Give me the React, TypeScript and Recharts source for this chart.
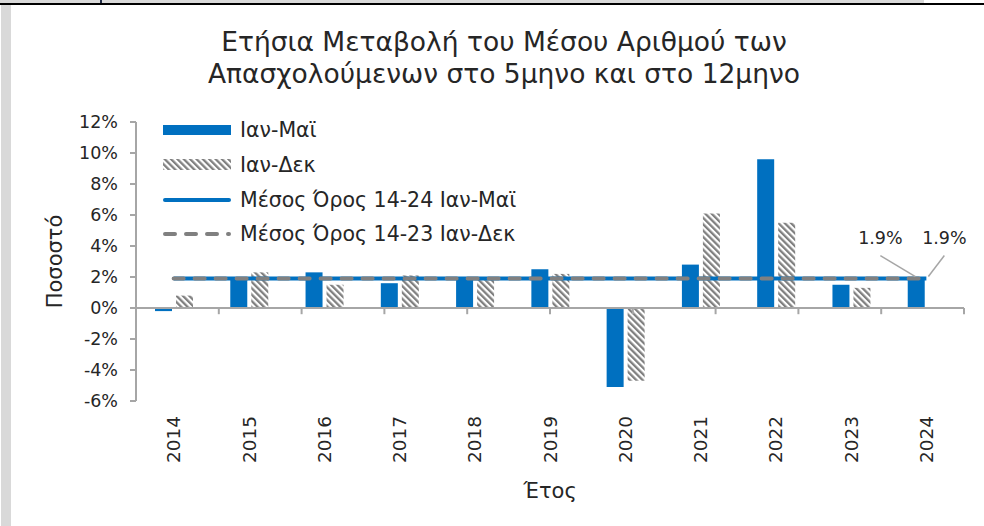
import {
  ComposedChart,
  Bar,
  Line,
  XAxis,
  YAxis,
  ReferenceLine,
  Legend,
} from "recharts";

const years = ["2014", "2015", "2016", "2017", "2018", "2019", "2020", "2021", "2022", "2023", "2024"];
const janMay = [-0.2, 2.0, 2.3, 1.6, 1.9, 2.5, -5.1, 2.8, 9.6, 1.5, 2.0];
const janDec = [0.8, 2.3, 1.5, 2.1, 1.8, 2.2, -4.7, 6.1, 5.5, 1.3, null];
const avgJanMay = [1.9, 1.9, 1.9, 1.9, 1.9, 1.9, 1.9, 1.9, 1.9, 1.9, 1.9];
const avgJanDec = [1.9, 1.9, 1.9, 1.9, 1.9, 1.9, 1.9, 1.9, 1.9, 1.9, 1.9];
const yTicks = [-6, -4, -2, 0, 2, 4, 6, 8, 10, 12];

const data = years.map((year, i) => ({
  year,
  janMay: janMay[i],
  janDec: janDec[i],
  avgJanMay: avgJanMay[i],
  avgJanDec: avgJanDec[i],
}));

// category boundaries for the tick marks under the zero line
const boundaries = years.map((_, i) => i + 1);

const BLUE = "#0070C0";
const GRAY = "#808080";
const AXIS = "#a6a6a6";
const TEXT = "#262626";
const FONT = "'DejaVu Sans', sans-serif";

const legendItems = [
  { key: "janMay", label: "Ιαν-Μαϊ", kind: "bar" },
  { key: "janDec", label: "Ιαν-Δεκ", kind: "hatch" },
  { key: "avgJanMay", label: "Μέσος Όρος 14-24 Ιαν-Μαϊ", kind: "line" },
  { key: "avgJanDec", label: "Μέσος Όρος 14-23 Ιαν-Δεκ", kind: "dash" },
];

const LegendBox = () => (
  <div style={{ fontFamily: FONT, fontSize: 20.5, color: TEXT }}>
    {legendItems.map((item) => (
      <div key={item.key} style={{ display: "flex", alignItems: "center", height: 34.7 }}>
        <svg width={72} height={14} style={{ marginRight: 6 }}>
          {item.kind === "bar" && <rect x={1} y={2} width={68} height={10} fill={BLUE} />}
          {item.kind === "hatch" && <rect x={1} y={1} width={68} height={11} fill="url(#hatch)" />}
          {item.kind === "line" && (
            <line x1={3} y1={7} x2={67} y2={7} stroke={BLUE} strokeWidth={4} strokeLinecap="round" />
          )}
          {item.kind === "dash" && (
            <line
              x1={3}
              y1={7}
              x2={67}
              y2={7}
              stroke={GRAY}
              strokeWidth={4}
              strokeLinecap="round"
              strokeDasharray="10 11"
            />
          )}
        </svg>
        <span>{item.label}</span>
      </div>
    ))}
  </div>
);

const YearTick = ({ x, y, payload }: any) => (
  <text
    x={x}
    y={y + 13}
    transform={`rotate(-90 ${x} ${y + 13})`}
    textAnchor="end"
    dy="0.36em"
    fill={TEXT}
    fontSize={18.5}
    fontFamily={FONT}
  >
    {payload.value}
  </text>
);

const lastLabel = (side: "left" | "right") => (props: any) => {
  const { x, y, index, value } = props;
  if (index !== years.length - 1 || x == null) return null;
  const dx = side === "left" ? -46 : 18;
  const endX = side === "left" ? x - 11 : x + 2;
  return (
    <g>
      <line x1={x + dx} y1={y - 23} x2={endX} y2={y - 2} stroke={AXIS} strokeWidth={1.5} />
      <text
        x={x + dx}
        y={y - 41}
        textAnchor="middle"
        dy="0.35em"
        fill={TEXT}
        fontSize={17.5}
        fontFamily={FONT}
      >
        {`${value}%`}
      </text>
    </g>
  );
};

const YLabel = (props: any) => {
  const vb = props.viewBox || {};
  const cx = (vb.x || 0) + 55;
  const cy = (vb.y || 0) + (vb.height || 0) / 2;
  return (
    <text
      x={cx}
      y={cy}
      transform={`rotate(-90 ${cx} ${cy})`}
      textAnchor="middle"
      dy="0.35em"
      fill={TEXT}
      fontSize={21}
      fontFamily={FONT}
    >
      Ποσοστό
    </text>
  );
};

export default function App() {
  return (
    <div
      style={{
        position: "absolute",
        left: 0,
        top: 0,
        width: 984,
        height: 526,
        background: "#ffffff",
        overflow: "hidden",
      }}
    >
      <div style={{ position: "absolute", left: 0, top: 0, width: 924, height: 3, background: "#d9d9d9" }} />
      <div style={{ position: "absolute", left: 100, top: 0, width: 2, height: 3, background: "#1f2a44" }} />
      <div style={{ position: "absolute", left: 0, top: 3, width: 984, height: 2, background: "#000000" }} />
      <div style={{ position: "absolute", left: 1, top: 5, width: 10, height: 521, background: "#d9d9d9" }} />

      <div
        style={{
          position: "absolute",
          left: 104,
          top: 26,
          width: 800,
          textAlign: "center",
          fontFamily: FONT,
          fontSize: 26.5,
          lineHeight: "32px",
          color: TEXT,
        }}
      >
        Ετήσια Μεταβολή του Μέσου Αριθμού των
        <br />
        Απασχολούμενων στο 5μηνο και στο 12μηνο
      </div>

      <div style={{ position: "absolute", left: 0, top: 0 }}>
        <ComposedChart
          width={984}
          height={526}
          data={data}
          margin={{ top: 122, right: 20, bottom: 0, left: 0 }}
          barGap={4}
        >
          <defs>
            <pattern
              id="hatch"
              patternUnits="userSpaceOnUse"
              width={4.5}
              height={4.5}
              patternTransform="rotate(-45)"
            >
              <rect width={4.5} height={4.5} fill="#ffffff" />
              <rect width={2.3} height={4.5} fill={GRAY} />
            </pattern>
          </defs>
          <XAxis
            xAxisId="cat"
            dataKey="year"
            height={125}
            axisLine={false}
            tickLine={false}
            tickSize={0}
            interval={0}
            tick={<YearTick />}
            label={{
              value: "Έτος",
              position: "insideBottom",
              offset: 28,
              fill: TEXT,
              fontSize: 21,
              fontFamily: FONT,
            }}
          />
          <XAxis xAxisId="num" type="number" domain={[0, 11]} allowDataOverflow hide />
          <YAxis
            width={136}
            domain={[-6, 12]}
            ticks={yTicks}
            interval={0}
            tickFormatter={(v) => `${v}%`}
            axisLine={{ stroke: AXIS, strokeWidth: 2 }}
            tickLine={{ stroke: AXIS, strokeWidth: 2 }}
            tickSize={6}
            tickMargin={12}
            tick={{ fill: TEXT, fontSize: 17.5, fontFamily: FONT }}
            label={<YLabel />}
          />
          <Legend
            layout="vertical"
            verticalAlign="middle"
            align="center"
            content={<LegendBox />}
            wrapperStyle={{ position: "absolute", left: 162, top: 113, width: 420 }}
          />
          <Bar
            xAxisId="cat"
            dataKey="janMay"
            name="Ιαν-Μαϊ"
            fill={BLUE}
            barSize={17}
            isAnimationActive={false}
          />
          <Bar
            xAxisId="cat"
            dataKey="janDec"
            name="Ιαν-Δεκ"
            fill="url(#hatch)"
            barSize={17}
            isAnimationActive={false}
          />
          <ReferenceLine xAxisId="cat" y={0} stroke={AXIS} strokeWidth={2} />
          {boundaries.map((b) => (
            <ReferenceLine
              key={b}
              xAxisId="num"
              segment={[
                { x: b, y: 0 },
                { x: b, y: -0.4 },
              ]}
              stroke={AXIS}
              strokeWidth={2}
            />
          ))}
          <Line
            xAxisId="cat"
            type="linear"
            dataKey="avgJanMay"
            name="Μέσος Όρος 14-24 Ιαν-Μαϊ"
            stroke={BLUE}
            strokeWidth={4}
            dot={false}
            activeDot={false}
            label={lastLabel("left")}
            isAnimationActive={false}
          />
          <Line
            xAxisId="cat"
            type="linear"
            dataKey="avgJanDec"
            name="Μέσος Όρος 14-23 Ιαν-Δεκ"
            stroke={GRAY}
            strokeWidth={4}
            strokeDasharray="10 11"
            strokeLinecap="round"
            dot={false}
            activeDot={false}
            label={lastLabel("right")}
            isAnimationActive={false}
          />
        </ComposedChart>
      </div>
    </div>
  );
}
